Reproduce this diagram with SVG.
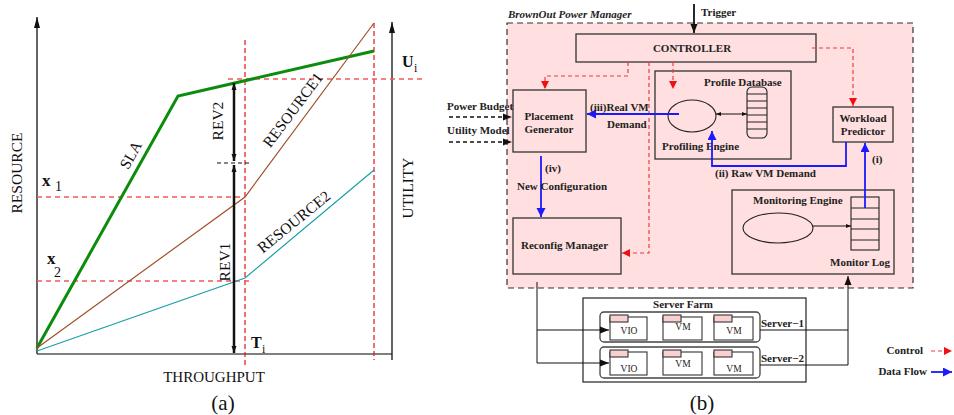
<svg xmlns="http://www.w3.org/2000/svg" width="954" height="415" viewBox="0 0 954 415">
<defs>
<style>
.ser{font-family:"Liberation Serif","Times New Roman",serif;fill:#111}
.lab{font-size:15.5px}
.b{font-family:"Liberation Serif","Times New Roman",serif;font-weight:bold;font-size:11px;fill:#222}
.sm{font-family:"Liberation Serif","Times New Roman",serif;font-size:9.5px;fill:#222}
.box{fill:none;stroke:#333;stroke-width:1.3}
.rdv{stroke:#e8121b;stroke-width:1.2;stroke-dasharray:5,3;fill:none}
.rdh{stroke:#f25858;stroke-width:1.3;stroke-dasharray:5,4;fill:none}
.ctl{stroke:#f23a3a;stroke-width:1.2;stroke-dasharray:4,3;fill:none}
.blu{stroke:#1a1aff;stroke-width:1.8;fill:none}
.blk{stroke:#111;stroke-width:1;fill:none}
.tab{fill:#f9d0d0;stroke:#333;stroke-width:1.1}
</style>
<marker id="ax" markerWidth="12" markerHeight="8" refX="11" refY="4" orient="auto" markerUnits="userSpaceOnUse"><path d="M0,1 L11,4 L0,7 z" fill="#111"/></marker>
<marker id="rv" markerWidth="8" markerHeight="6" refX="7" refY="3" orient="auto-start-reverse" markerUnits="userSpaceOnUse"><path d="M0,0.5 L7,3 L0,5.5 z" fill="#111"/></marker>
<marker id="bk" markerWidth="10" markerHeight="8" refX="9" refY="4" orient="auto-start-reverse" markerUnits="userSpaceOnUse"><path d="M0,0.5 L9,4 L0,7.5 z" fill="#111"/></marker>
<marker id="sk" markerWidth="6" markerHeight="6" refX="5" refY="3" orient="auto-start-reverse" markerUnits="userSpaceOnUse"><path d="M0,1 L5,3 L0,5 z" fill="#111"/></marker>
<marker id="bl" markerWidth="10" markerHeight="10" refX="9" refY="4.5" orient="auto" markerUnits="userSpaceOnUse"><path d="M0,0 L9,4.5 L0,9 z" fill="#1a1aff"/></marker>
<marker id="rd" markerWidth="9" markerHeight="9" refX="8" refY="4" orient="auto" markerUnits="userSpaceOnUse"><path d="M0,0 L8,4 L0,8 z" fill="#f01010"/></marker>
</defs>
<rect width="954" height="415" fill="#fff"/>

<!-- (a) chart -->
<g id="chart-a">
<line x1="37" y1="354" x2="37" y2="17" stroke="#111" stroke-width="1.3" marker-end="url(#ax)"/>
<line x1="37" y1="354" x2="392" y2="354" stroke="#555" stroke-width="1.5"/>
<line x1="392" y1="360" x2="392" y2="22" stroke="#111" stroke-width="1.3" marker-end="url(#ax)"/>
<line class="rdv" x1="245" y1="40" x2="245" y2="368"/>
<line class="rdv" x1="374" y1="23" x2="374" y2="360"/>
<line class="rdh" x1="228" y1="79" x2="425" y2="79"/>
<line class="rdh" x1="37" y1="197" x2="245" y2="197"/>
<line class="rdh" x1="37" y1="281" x2="252" y2="281"/>
<polyline points="37,348 178,96 374,51" fill="none" stroke="#0c8c0c" stroke-width="3"/>
<polyline points="37,348 245,197 374,23" fill="none" stroke="#a0502a" stroke-width="1.2"/>
<polyline points="37,351 245,278 374,170" fill="none" stroke="#18a0a8" stroke-width="1.2"/>
<line x1="234" y1="161" x2="234" y2="83" stroke="#111" stroke-width="2.5" marker-start="url(#rv)" marker-end="url(#rv)"/>
<line x1="234" y1="165" x2="234" y2="353" stroke="#111" stroke-width="2.5" marker-start="url(#rv)" marker-end="url(#rv)"/>
<line x1="217" y1="163" x2="249" y2="163" stroke="#111" stroke-width="1" stroke-dasharray="4,3"/>
<text class="ser lab" transform="translate(22,173) rotate(-90)" text-anchor="middle">RESOURCE</text>
<text class="ser lab" transform="translate(413,188) rotate(-90)" text-anchor="middle">UTILITY</text>
<text class="ser lab" transform="translate(223,121) rotate(-90)" text-anchor="middle">REV2</text>
<text class="ser lab" transform="translate(230,262) rotate(-90)" text-anchor="middle">REV1</text>
<text class="ser lab" transform="translate(131,155) rotate(-61)" text-anchor="middle" y="5">SLA</text>
<text class="ser lab" transform="translate(293,110) rotate(-53)" text-anchor="middle" y="5">RESOURCE1</text>
<text class="ser lab" transform="translate(294,222) rotate(-39)" text-anchor="middle" y="5">RESOURCE2</text>
<text class="ser" x="42" y="186" font-size="17" font-weight="bold">x</text>
<text class="ser" x="55" y="191" font-size="14">1</text>
<text class="ser" x="47" y="264" font-size="17" font-weight="bold">x</text>
<text class="ser" x="54" y="277" font-size="14">2</text>
<text class="ser" x="402" y="67" font-size="16" font-weight="bold">U</text>
<text class="ser" x="414" y="72" font-size="12">i</text>
<text class="ser" x="251" y="348" font-size="16" font-weight="bold">T</text>
<text class="ser" x="262" y="353" font-size="12">i</text>
<text class="ser" x="214" y="382" font-size="15" text-anchor="middle">THROUGHPUT</text>
<text class="ser" x="223" y="410" font-size="21" text-anchor="middle" fill="#333">(a)</text>
</g>

<!-- (b) diagram -->
<g id="bpm">
<rect x="507" y="23" width="406" height="265" fill="#ffdfe0" stroke="#333" stroke-width="1.2" stroke-dasharray="6,4"/>
<text class="b" x="508" y="18" font-size="12.5" font-style="italic">BrownOut Power Manager</text>
</g>
<g id="controller">
<rect class="box" x="576" y="34" width="240" height="28"/>
<text class="b" x="692" y="52" text-anchor="middle" font-size="11.5">CONTROLLER</text>
</g>
<g id="placement">
<rect class="box" x="513" y="90" width="73" height="62"/>
<text class="b" x="549" y="120" text-anchor="middle">Placement</text>
<text class="b" x="549" y="133" text-anchor="middle">Generator</text>
</g>
<g id="profile">
<rect class="box" x="655" y="71" width="136" height="88"/>
<text class="b" x="704" y="86">Profile Database</text>
<ellipse cx="692" cy="116" rx="24" ry="16" fill="none" stroke="#222" stroke-width="1.1"/>
<rect x="747" y="87" width="20" height="51" rx="5" fill="none" stroke="#222" stroke-width="1.1"/>
<path d="M747,94 H767 M747,101 H767 M747,108 H767 M747,115 H767 M747,122 H767 M747,129 H767" stroke="#222" stroke-width="1"/>
<text class="b" x="662" y="150">Profiling Engine</text>
</g>
<g id="workload">
<rect class="box" x="833" y="107" width="60" height="35"/>
<text class="b" x="863" y="122" text-anchor="middle">Workload</text>
<text class="b" x="863" y="135" text-anchor="middle">Predictor</text>
</g>
<g id="monitoring">
<rect class="box" x="732" y="190" width="162" height="84"/>
<text class="b" x="753" y="204">Monitoring Engine</text>
<ellipse cx="778" cy="228" rx="35" ry="15" fill="none" stroke="#222" stroke-width="1.1"/>
<rect x="851" y="197" width="28" height="53" fill="none" stroke="#222" stroke-width="1.1"/>
<path d="M851,208 H879 M851,219 H879 M851,229 H879 M851,240 H879" stroke="#222" stroke-width="1"/>
<text class="b" x="830" y="266">Monitor Log</text>
</g>
<g id="reconfig">
<rect class="box" x="513" y="218" width="108" height="56"/>
<text class="b" x="521" y="249">Reconfig Manager</text>
</g>
<g id="serverfarm">
<rect class="box" x="583" y="298" width="223" height="84"/>
<text class="b" x="683" y="308" font-size="12.5" text-anchor="middle">Server Farm</text>
</g>
<g id="server1">
<rect x="600" y="312" width="160" height="30" rx="4" fill="none" stroke="#444" stroke-width="1.3"/>
<rect x="610" y="317" width="37" height="23" fill="#fff" stroke="#333" stroke-width="1.1"/>
<rect class="tab" x="610" y="315" width="18" height="7"/>
<text class="sm" x="629" y="334" text-anchor="middle">VIO</text>
<rect x="663" y="317" width="39" height="23" fill="#fff" stroke="#333" stroke-width="1.1"/>
<rect class="tab" x="663" y="315" width="18" height="7"/>
<text class="sm" x="683" y="330" text-anchor="middle">VM</text>
<rect x="714" y="317" width="39" height="23" fill="#fff" stroke="#333" stroke-width="1.1"/>
<rect class="tab" x="714" y="315" width="18" height="7"/>
<text class="sm" x="734" y="334" text-anchor="middle">VM</text>
<text class="b" x="761" y="327">Server−1</text>
</g>
<g id="server2">
<rect x="600" y="347" width="160" height="31" rx="4" fill="none" stroke="#444" stroke-width="1.3"/>
<rect x="610" y="352" width="37" height="23" fill="#fff" stroke="#333" stroke-width="1.1"/>
<rect class="tab" x="610" y="350" width="18" height="7"/>
<text class="sm" x="629" y="372" text-anchor="middle">VIO</text>
<rect x="663" y="352" width="39" height="23" fill="#fff" stroke="#333" stroke-width="1.1"/>
<rect class="tab" x="663" y="350" width="18" height="7"/>
<text class="sm" x="683" y="367" text-anchor="middle">VM</text>
<rect x="714" y="352" width="39" height="23" fill="#fff" stroke="#333" stroke-width="1.1"/>
<rect class="tab" x="714" y="350" width="18" height="7"/>
<text class="sm" x="734" y="372" text-anchor="middle">VM</text>
<text class="b" x="761" y="362">Server−2</text>
</g>

<g id="connectors">
<line x1="694" y1="4" x2="694" y2="33" stroke="#111" stroke-width="1.8" marker-end="url(#bk)"/>
<text class="b" x="701" y="16">Trigger</text>
<line x1="449" y1="117" x2="512" y2="117" stroke="#111" stroke-width="1.3" stroke-dasharray="4,3" marker-end="url(#bk)"/>
<text class="b" x="447" y="110">Power Budget</text>
<line x1="449" y1="142" x2="512" y2="142" stroke="#111" stroke-width="1.3" stroke-dasharray="4,3" marker-end="url(#bk)"/>
<text class="b" x="447" y="134">Utility Model</text>
<path class="ctl" d="M628,62 V76 H545 V89" marker-end="url(#rd)"/>
<path class="ctl" d="M649,62 V253 H622" marker-end="url(#rd)"/>
<path class="ctl" d="M673,62 V89" marker-end="url(#rd)"/>
<path class="ctl" d="M812,48 H853 V106" marker-end="url(#rd)"/>
<line class="blu" x1="679" y1="114" x2="587" y2="114" marker-end="url(#bl)"/>
<text class="b" x="590" y="111">(iii)Real VM</text>
<text class="b" x="607" y="128">Demand</text>
<path class="blu" d="M846,142 V166 H712 V131" marker-end="url(#bl)"/>
<text class="b" x="715" y="177">(ii) Raw VM Demand</text>
<line class="blu" x1="865" y1="208" x2="865" y2="143" marker-end="url(#bl)"/>
<text class="b" x="872" y="163">(i)</text>
<line class="blu" x1="541" y1="156" x2="541" y2="217" marker-end="url(#bl)"/>
<text class="b" x="545" y="172">(iv)</text>
<text class="b" x="517" y="190">New Configuration</text>
<line x1="716" y1="114" x2="747" y2="114" stroke="#111" stroke-width="1" marker-start="url(#sk)" marker-end="url(#sk)"/>
<line x1="813" y1="226" x2="851" y2="226" stroke="#111" stroke-width="1" marker-end="url(#sk)"/>
<path class="blk" d="M537,282 V363"/>
<path class="blk" d="M537,330 H609" marker-end="url(#bk)"/>
<path class="blk" d="M537,363 H609" marker-end="url(#bk)"/>
<path class="blk" d="M760,330 H848 M760,365 H848 V276" marker-end="url(#bk)"/>
</g>

<g id="legend">
<text class="b" x="923" y="354" text-anchor="end">Control</text>
<line class="ctl" x1="931" y1="351" x2="952" y2="351" marker-end="url(#rd)"/>
<text class="b" x="927" y="375" text-anchor="end">Data Flow</text>
<line class="blu" x1="931" y1="372" x2="952" y2="372" marker-end="url(#bl)"/>
</g>
<text class="ser" x="702" y="410" font-size="21" text-anchor="middle" fill="#333">(b)</text>
</svg>
